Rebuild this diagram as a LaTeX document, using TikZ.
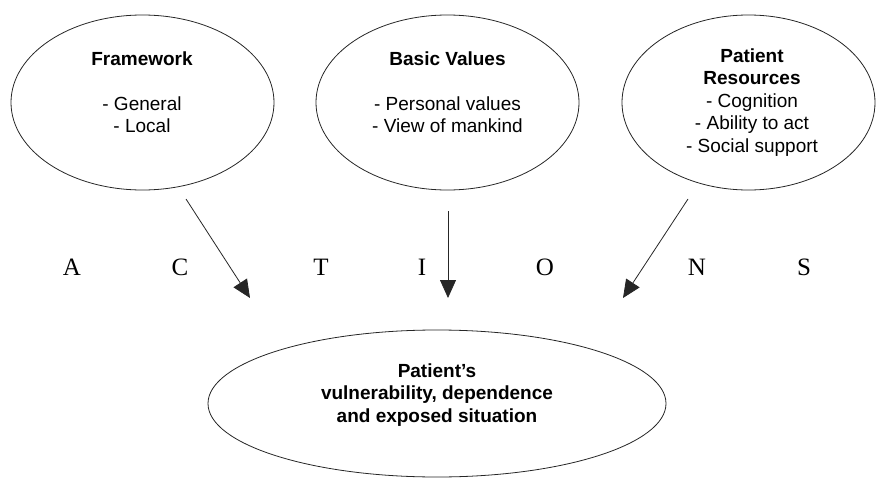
\documentclass[tikz,border=0pt]{standalone}
\usepackage{fontspec}
\setmainfont{Liberation Sans}
\newfontfamily\letterfont{Liberation Serif}
\usetikzlibrary{shapes.geometric,arrows.meta}
\begin{document}
\begin{tikzpicture}[x=1pt,y=-1pt,
  oval/.style={draw=black!85,line width=0.8pt,ellipse,inner sep=0pt},
  label text/.style={align=center,font=\fontsize{19}{22.5}\selectfont,text=black},
  letter/.style={font=\letterfont\fontsize{25}{25}\selectfont,text=black},
  influence/.style={draw=black!85,line width=0.8pt,-{Triangle[length=18pt,width=16pt]}}]
\useasboundingbox (0,0) rectangle (876,479);

% Influencing factors
\node[oval,minimum width=263pt,minimum height=175pt] (frame) at (142.5,102.5) {};
\node[oval,minimum width=263pt,minimum height=175pt] (values) at (447.5,102.5) {};
\node[oval,minimum width=253pt,minimum height=175pt] (resources) at (748.5,102.5) {};
% Outcome
\node[oval,minimum width=458pt,minimum height=147pt] (patient) at (437,403.5) {};

\node[label text] (frametxt) at (142,92) {\textbf{Framework}\\ \\- General\\- Local};
\node[label text] (valuestxt) at (447.5,92) {\textbf{Basic Values}\\ \\- Personal values\\- View of mankind};
\node[label text] (restxt) at (752,102.5) {\textbf{Patient}\\\textbf{Resources}\\- Cognition\\- Ability to act\\- Social support};
\node[label text] (patienttxt) at (437,395) {\textbf{Patient’s}\\\textbf{vulnerability, dependence}\\\textbf{and exposed situation}};

% ACTIONS spelled across the middle
\node[letter] (la) at (72,267) {A};
\node[letter] (lc) at (180,267) {C};
\node[letter] (lt) at (321,267) {T};
\node[letter] (li) at (422,267) {I};
\node[letter] (lo) at (545,267) {O};
\node[letter] (ln) at (697,267) {N};
\node[letter] (ls) at (804,267) {S};

% Arrow end points
\coordinate (f1) at (186,199);
\coordinate (f2) at (250,298);
\coordinate (v1) at (448,211);
\coordinate (v2) at (448,298);
\coordinate (r1) at (688,199);
\coordinate (r2) at (623,298);

\draw[influence] (f1) -- (f2);
\draw[influence] (v1) -- (v2);
\draw[influence] (r1) -- (r2);
\end{tikzpicture}
\end{document}
